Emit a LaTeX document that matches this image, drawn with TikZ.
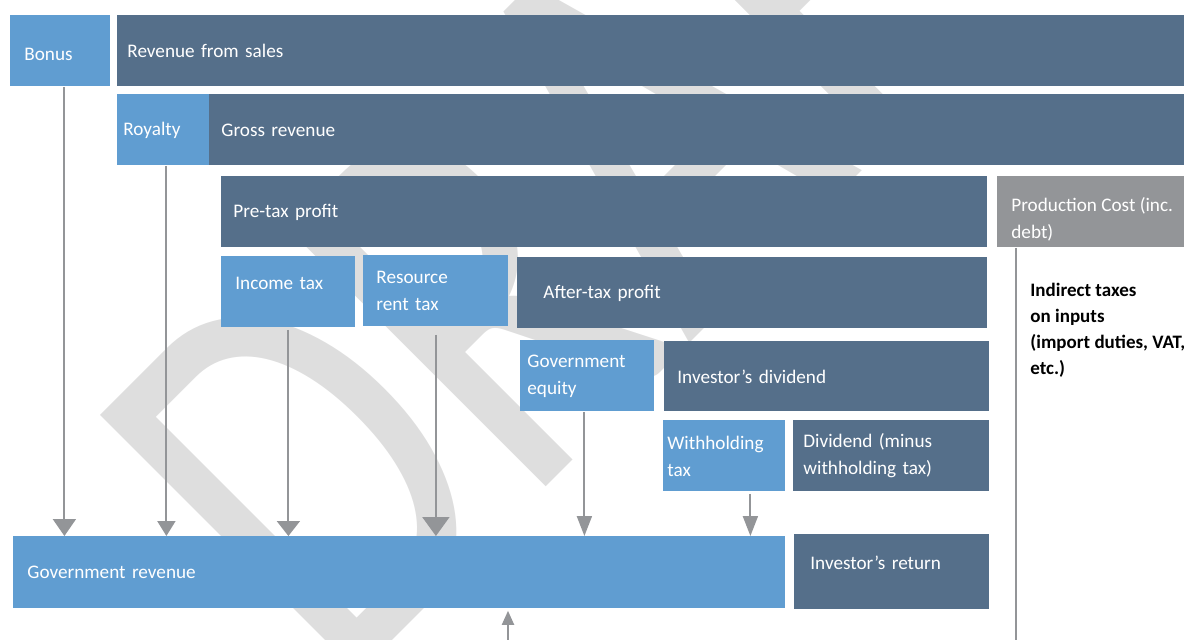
\documentclass[tikz,border=0pt]{standalone}
\usepackage{fontspec}
\setmainfont{Carlito}
\usetikzlibrary{arrows.meta}
\definecolor{govblue}{HTML}{609DD1}
\definecolor{invslate}{HTML}{556F8A}
\definecolor{costgray}{HTML}{939598}
\definecolor{draftgray}{HTML}{DEDEDE}
\tikzset{
  box/.style={rectangle, fill=#1, text=white, anchor=north west, align=left,
    inner ysep=0pt, font=\fontsize{9.6}{13.5}\selectfont},
  flow/.style={draw=costgray, line width=1pt},
  head/.style 2 args={-{Triangle[width=#1,length=#2]}}
}
\begin{document}
\begin{tikzpicture}[x=0.5pt,y=-0.5pt]
\useasboundingbox (0,0) rectangle (1184,639);
% Watermark behind everything
\node[text=draftgray, font=\fontsize{285}{285}\selectfont, rotate=45, xscale=0.75, anchor=base west, inner sep=0pt] (draft) at (338,695) {DRAFT};
% Top rows
\node[box=govblue, minimum width=50pt, minimum height=35.5pt, inner xsep=7pt, text width=36pt] (bonus) at (10,15) {\raisebox{-2pt}[\height][\depth]{Bonus}};
\node[box=invslate, minimum width=533.5pt, minimum height=35.5pt, inner xsep=5pt, text width=523.5pt] (sales) at (117,15) {Revenue from sales};
\node[box=govblue, minimum width=46pt, minimum height=35.5pt, inner xsep=3pt, text width=40pt] (royalty) at (117,94) {Royalty};
\node[box=invslate, minimum width=487.5pt, minimum height=35.5pt, inner xsep=6pt, text width=475.5pt] (gross) at (209,94) {Gross revenue};
\node[box=invslate, minimum width=383pt, minimum height=35.5pt, inner xsep=6pt, text width=371pt] (pretax) at (221,176) {Pre-tax profit};
\node[box=costgray, minimum width=93.5pt, minimum height=35.5pt, inner xsep=7pt] (prodcost) at (997,176) {\raisebox{-3.5pt}[\height][\depth]{\parbox{86pt}{Production Cost (inc.\\debt)}}};
% Profit taxes
\node[box=govblue, minimum width=67pt, minimum height=35.5pt, inner xsep=7pt, text width=53pt] (income) at (221,256) {\raisebox{4.5pt}[\height][\depth]{Income tax}};
\node[box=govblue, minimum width=72.5pt, minimum height=35.5pt, inner xsep=6.5pt, text width=59.5pt] (resource) at (363,255) {Resource\\rent tax};
\node[box=invslate, minimum width=235pt, minimum height=35.5pt, inner xsep=13pt, text width=209pt] (aftertax) at (517,257) {After-tax profit};
\node[box=govblue, minimum width=67pt, minimum height=35.5pt, inner xsep=3.5pt, text width=60pt] (equity) at (520,340) {Government\\equity};
\node[box=invslate, minimum width=162.5pt, minimum height=35pt, inner xsep=6.5pt, text width=149.5pt] (dividend) at (664,341) {Investor’s dividend};
\node[box=govblue, minimum width=61pt, minimum height=35.5pt, inner xsep=2pt, text width=57pt] (withhold) at (663,420) {Withholding\\tax};
\node[box=invslate, minimum width=98pt, minimum height=35.5pt, inner xsep=5pt, text width=88pt] (netdiv) at (793,420) {Dividend (minus\\withholding tax)};
% Bottom row
\node[box=govblue, minimum width=386pt, minimum height=36pt, inner xsep=7pt, text width=372pt] (govrev) at (13,536) {Government revenue};
\node[box=invslate, minimum width=97.5pt, minimum height=37.5pt, inner xsep=8pt, text width=81.5pt] (return) at (794,534) {\raisebox{4.5pt}[\height][\depth]{Investor’s return}};
\node[anchor=north west, inner sep=0pt, align=left, font=\bfseries\fontsize{9.5}{13}\selectfont] (indirect) at (1030,283) {Indirect taxes\\on inputs\\(import duties, VAT,\\etc.)};
% Flows into government revenue
\coordinate (cost foot) at (1016,650);
\coordinate (cost link) at (508,650);
\draw[flow, head={11.5pt}{8.5pt}] ([xshift=2pt]bonus.south) -- ([xshift=2pt]bonus.south |- govrev.north);
\draw[flow, head={9pt}{7.5pt}] ([xshift=1.5pt]royalty.south) -- ([xshift=1.5pt]royalty.south |- govrev.north);
\draw[flow, head={11.5pt}{7.5pt}] ([yshift=-1pt]income.south) -- (income.south |- govrev.north);
\draw[flow, head={13.5pt}{9.5pt}] ([yshift=-4pt]resource.south) -- (resource.south |- govrev.north);
\draw[flow, head={7.5pt}{10pt}] ([xshift=-1.5pt]equity.south) -- ([xshift=-1.5pt]equity.south |- govrev.north);
\draw[flow, head={7.5pt}{10pt}] ([xshift=13pt,yshift=-1pt]withhold.south) -- ([xshift=13pt]withhold.south |- govrev.north);
\draw[flow, head={6pt}{7pt}] (cost link) -- ([yshift=-1pt]cost link |- govrev.south);
\draw[flow] (cost foot |- prodcost.south) -- (cost foot);
\end{tikzpicture}
\end{document}
